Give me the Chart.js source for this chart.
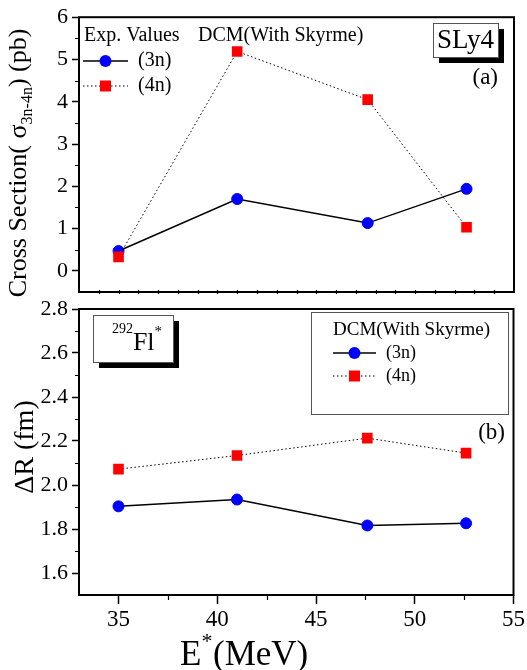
<!DOCTYPE html>
<html>
<head>
<meta charset="utf-8">
<script src="https://cdn.jsdelivr.net/npm/chart.js@4.4.0/dist/chart.umd.min.js"></script>
<style>
  body { margin: 0; background: #fff; }
  #wrap { position: relative; width: 527px; height: 670px; }
  canvas { position: absolute; left: 0; top: 0; }
</style>
</head>
<body>
<div id="wrap">
  <canvas id="lower" width="527" height="670"></canvas>
  <canvas id="upper" width="527" height="670"></canvas>
</div>
<script>
// values
var energy  = [35, 41, 47.6, 52.6];
var sigma3n = [0.47, 1.70, 1.13, 1.94];
var sigma4n = [0.33, 5.19, 4.05, 1.03];
var dR3n    = [1.903, 1.934, 1.816, 1.826];
var dR4n    = [2.072, 2.134, 2.213, 2.145];

// tick labels
var xTicks     = [35, 40, 45, 50, 55];
var sigmaTicks = [0, 1, 2, 3, 4, 5, 6];
var dRTicks    = [1.6, 1.8, 2.0, 2.2, 2.4, 2.6, 2.8];
var xMinor     = [37.5, 42.5, 47.5, 52.5];
var sigmaMinor = [0.5, 1.5, 2.5, 3.5, 4.5, 5.5];
var dRMinor    = [1.7, 1.9, 2.1, 2.3, 2.5, 2.7];

var SERIF = '"Liberation Serif", "Times New Roman", serif';
Chart.defaults.font.family = SERIF;
Chart.defaults.color = '#000';

function pts(xs, ys) {
  return xs.map(function (x, i) { return { x: x, y: ys[i] }; });
}

function set3n(data) {
  return {
    data: data, showLine: true, order: 1,
    borderColor: '#000', borderWidth: 1.5,
    pointStyle: 'circle', pointRadius: 5.5,
    pointBackgroundColor: '#0000ff', pointBorderColor: '#0000ff', pointBorderWidth: 1
  };
}
function set4n(data) {
  return {
    data: data, showLine: true, order: 0,
    borderColor: '#000', borderWidth: 1, borderDash: [1.5, 2.5],
    pointStyle: 'rect', pointRadius: 7.5,
    pointBackgroundColor: '#ff0000', pointBorderColor: '#ff0000', pointBorderWidth: 0
  };
}

function yScale(min, max, ticks, fmt) {
  return {
    type: 'linear', min: min, max: max,
    afterBuildTicks: function (s) { s.ticks = ticks.map(function (v) { return { value: v }; }); },
    afterFit: function (s) { s.width = 79; },
    ticks: { font: { size: 22, family: SERIF }, padding: 4, autoSkip: false, callback: fmt },
    grid: { drawOnChartArea: false, tickLength: 7, tickColor: '#000', tickWidth: 1.5 },
    border: { display: false }
  };
}

function font(px) { return px + 'px ' + SERIF; }

// text runs with sub/superscripts
function runs(ctx, parts, x, y, center) {
  var w = 0;
  parts.forEach(function (p) { ctx.font = font(p.s); p.w = ctx.measureText(p.t).width; w += p.w; });
  var cx = center ? x - w / 2 : x;
  ctx.textAlign = 'left';
  ctx.textBaseline = 'alphabetic';
  parts.forEach(function (p) { ctx.font = font(p.s); ctx.fillText(p.t, cx, y + (p.dy || 0)); cx += p.w; });
}

function marker(ctx, kind, x, y) {
  if (kind === 'circle') {
    ctx.fillStyle = '#0000ff';
    ctx.beginPath(); ctx.arc(x, y, 6, 0, Math.PI * 2); ctx.fill();
  } else {
    ctx.fillStyle = '#ff0000';
    ctx.fillRect(x - 5.5, y - 5.5, 11, 11);
  }
}

function legendRow(ctx, kind, x0, x1, y, label, size) {
  ctx.save();
  ctx.strokeStyle = '#000';
  if (kind === 'circle') { ctx.lineWidth = 1.5; ctx.setLineDash([]); }
  else { ctx.lineWidth = 1; ctx.setLineDash([1.5, 2.5]); }
  ctx.beginPath(); ctx.moveTo(x0, y); ctx.lineTo(x1, y); ctx.stroke();
  ctx.setLineDash([]);
  marker(ctx, kind, (x0 + x1) / 2, y);
  ctx.fillStyle = '#000';
  ctx.font = font(size);
  ctx.textAlign = 'left'; ctx.textBaseline = 'middle';
  ctx.fillText(label, x1 + 10, y);
  ctx.restore();
}

function shadowBox(ctx, x, y, w, h) {
  ctx.fillStyle = '#000';
  ctx.fillRect(x + 6, y + 6, w, h);
  ctx.fillStyle = '#fff';
  ctx.fillRect(x, y, w, h);
  ctx.strokeStyle = '#555';
  ctx.lineWidth = 1;
  ctx.strokeRect(x + 0.5, y + 0.5, w, h);
}

function frame(minorX, minorY, xMinorLen, bothSides) {
  return {
    id: 'frame',
    afterDraw: function (chart) {
      var ctx = chart.ctx, a = chart.chartArea;
      var sx = chart.scales.x, sy = chart.scales.y;
      ctx.save();
      ctx.strokeStyle = '#000';
      ctx.lineWidth = 2;
      ctx.strokeRect(a.left, a.top, a.right - a.left, a.bottom - a.top);
      ctx.lineWidth = 1.2;
      ctx.beginPath();
      minorY.forEach(function (v) {
        var p = Math.round(sy.getPixelForValue(v)) + 0.5;
        ctx.moveTo(a.left - 4, p); ctx.lineTo(a.left, p);
      });
      minorX.forEach(function (v) {
        var p = Math.round(sx.getPixelForValue(v)) + 0.5;
        ctx.moveTo(p, a.bottom + xMinorLen); ctx.lineTo(p, bothSides ? a.bottom - 2 : a.bottom);
      });
      ctx.stroke();
      ctx.restore();
    }
  };
}

var upperText = {
  id: 'upperText',
  afterDraw: function (chart) {
    var ctx = chart.ctx;
    ctx.save();
    ctx.fillStyle = '#000';
    ctx.font = font(20);
    ctx.textAlign = 'left'; ctx.textBaseline = 'middle';
    ctx.fillText('Exp. Values', 84, 36);
    ctx.fillText('DCM(With Skyrme)', 198, 36);
    legendRow(ctx, 'circle', 83, 128, 61, '(3n)', 20);
    legendRow(ctx, 'rect', 83, 128, 86, '(4n)', 20);

    shadowBox(ctx, 433, 23, 65, 34);
    ctx.fillStyle = '#000';
    ctx.font = font(27);
    ctx.textAlign = 'center'; ctx.textBaseline = 'middle';
    ctx.fillText('SLy4', 465.5, 41);
    ctx.font = font(23);
    ctx.textAlign = 'right';
    ctx.fillText('(a)', 498, 78);

    // y title
    ctx.save();
    ctx.translate(26, 163);
    ctx.rotate(-Math.PI / 2);
    runs(ctx, [
      { t: 'Cross Section( \u03c3', s: 26 },
      { t: '3n-4n', s: 16, dy: 6 },
      { t: ') (pb)', s: 26 }
    ], 0, 0, true);
    ctx.restore();
    ctx.restore();
  }
};

var lowerText = {
  id: 'lowerText',
  afterDraw: function (chart) {
    var ctx = chart.ctx;
    ctx.save();
    shadowBox(ctx, 93, 315, 80, 47);
    ctx.fillStyle = '#000';
    runs(ctx, [
      { t: '292', s: 14, dy: -17 },
      { t: 'Fl', s: 26 },
      { t: '*', s: 15, dy: -14 }
    ], 137, 350, true);

    ctx.fillStyle = '#fff';
    ctx.fillRect(311, 312, 197, 102);
    ctx.strokeStyle = '#555';
    ctx.lineWidth = 1;
    ctx.strokeRect(311.5, 312.5, 197, 102);
    ctx.fillStyle = '#000';
    ctx.font = font(19);
    ctx.textAlign = 'left'; ctx.textBaseline = 'middle';
    ctx.fillText('DCM(With Skyrme)', 333, 330);
    legendRow(ctx, 'circle', 333, 376, 353, '(3n)', 18);
    legendRow(ctx, 'rect', 333, 376, 376, '(4n)', 18);

    ctx.fillStyle = '#000';
    ctx.font = font(23);
    ctx.textAlign = 'right'; ctx.textBaseline = 'middle';
    ctx.fillText('(b)', 505, 433);

    // y title
    ctx.save();
    ctx.translate(33, 447);
    ctx.rotate(-Math.PI / 2);
    runs(ctx, [{ t: '\u0394R (fm)', s: 28 }], 0, 0, true);
    ctx.restore();

    // x title
    runs(ctx, [
      { t: 'E', s: 35 },
      { t: '*', s: 22, dy: -17 }
    ], 180, 665, false);
    runs(ctx, [{ t: '(MeV)', s: 35 }], 213, 665, false);
    ctx.restore();
  }
};

var topMinorX = [];
for (var v = 34; v <= 54; v++) topMinorX.push(v);

new Chart(document.getElementById('upper'), {
  type: 'scatter',
  data: { datasets: [set3n(pts(energy, sigma3n)), set4n(pts(energy, sigma4n))] },
  options: {
    responsive: false, animation: false,
    layout: { padding: { left: 0, top: 15, right: 13, bottom: 374 } },
    plugins: { legend: { display: false }, tooltip: { enabled: false } },
    scales: {
      x: {
        type: 'linear', min: 33, max: 55,
        afterBuildTicks: function (s) { s.ticks = xTicks.map(function (v) { return { value: v }; }); },
        afterFit: function (s) { s.height = 4; },
        ticks: { display: false },
        grid: { display: false },
        border: { display: false }
      },
      y: yScale(-0.5, 6, sigmaTicks, function (v) { return String(v); })
    }
  },
  plugins: [frame(topMinorX, sigmaMinor, 2, true), upperText]
});

new Chart(document.getElementById('lower'), {
  type: 'scatter',
  data: { datasets: [set3n(pts(energy, dR3n)), set4n(pts(energy, dR4n))] },
  options: {
    responsive: false, animation: false,
    layout: { padding: { left: 0, top: 309, right: 13, bottom: 0 } },
    plugins: { legend: { display: false }, tooltip: { enabled: false } },
    scales: {
      x: {
        type: 'linear', min: 33, max: 55,
        afterBuildTicks: function (s) { s.ticks = xTicks.map(function (v) { return { value: v }; }); },
        afterFit: function (s) { s.height = 75; },
        ticks: { font: { size: 23, family: SERIF }, padding: 2, autoSkip: false, maxRotation: 0 },
        grid: { drawOnChartArea: false, tickLength: 9, tickColor: '#000', tickWidth: 1.5 },
        border: { display: false }
      },
      y: yScale(1.5, 2.8, dRTicks, function (v) { return v.toFixed(1); })
    }
  },
  plugins: [frame(xMinor, dRMinor, 5, false), lowerText]
});
</script>
</body>
</html>
